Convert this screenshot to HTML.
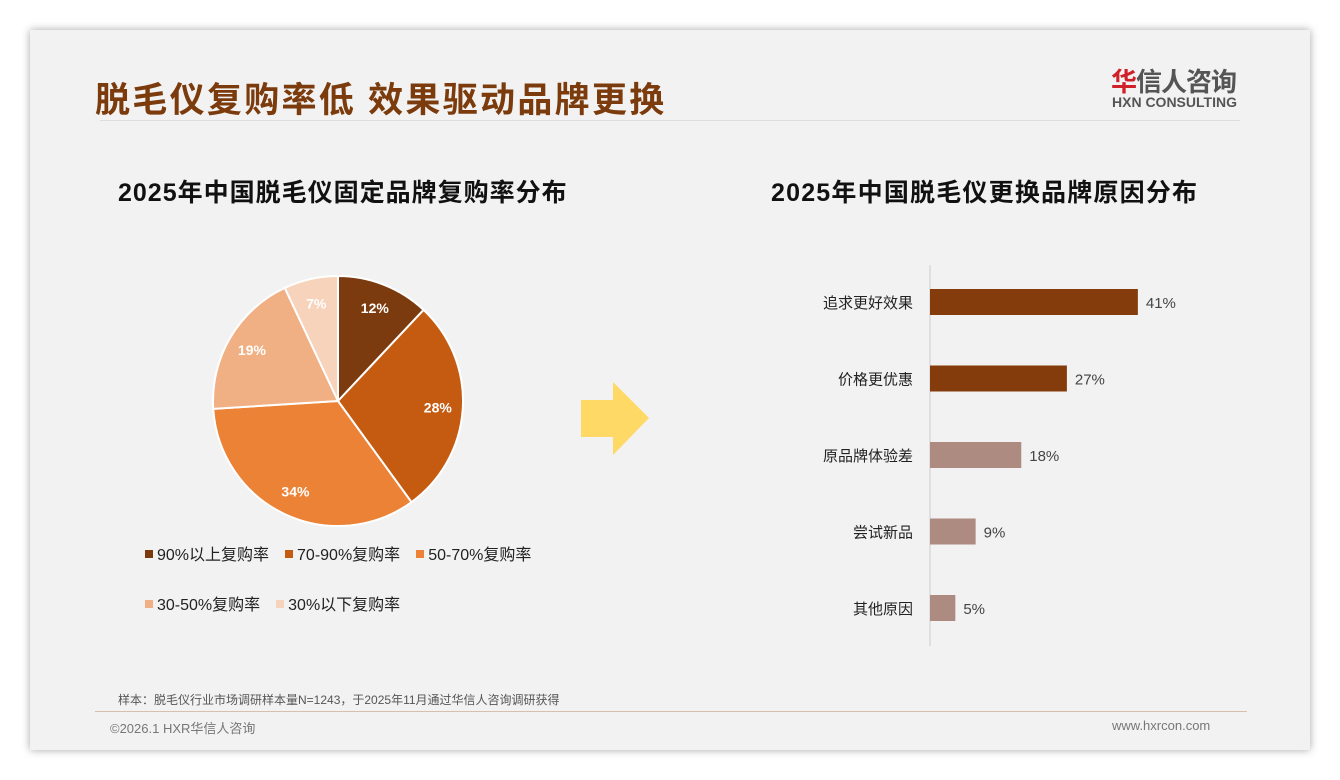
<!DOCTYPE html>
<html><head><meta charset="utf-8"><style>
body{margin:0;width:1340px;height:780px;background:#fff;position:relative;overflow:hidden;font-family:"Liberation Sans","Noto Sans CJK SC",sans-serif}
.card{position:absolute;left:30px;top:30px;width:1280px;height:720px;background:#f2f2f2;box-shadow:0 0 8px rgba(0,0,0,.35)}
.abs{position:absolute}
</style></head><body>
<div class="card"></div>
<div class="abs" style="left:95px;top:72px;font-size:35px;font-weight:bold;color:#7b3b0c;letter-spacing:2.3px">脱毛仪复购率低 效果驱动品牌更换</div>
<div class="abs" style="left:1111px;top:62px;font-size:26px;font-weight:bold;color:#555;letter-spacing:-1px"><span style="color:#d0202a">华</span>信人咨询</div>
<div class="abs" style="left:1112px;top:94px;font-size:14px;font-weight:bold;color:#555">HXN CONSULTING</div>
<div class="abs" style="left:100px;top:120px;width:1140px;height:1px;background:#ddd"></div>
<div class="abs" style="left:118px;top:173px;font-size:25px;font-weight:bold;color:#111;letter-spacing:1px">2025年中国脱毛仪固定品牌复购率分布</div>
<div class="abs" style="left:771px;top:173px;font-size:25px;font-weight:bold;color:#111;letter-spacing:1.2px">2025年中国脱毛仪更换品牌原因分布</div>
<svg class="abs" style="left:0;top:0" width="1340" height="780">
<g id="pie"></g>
<polygon points="581,400 613,400 613,382 649,418 613,455 613,437 581,437" fill="#ffd966"/>
<g id="bars"></g>
</svg>
<div class="abs" id="legend" style="left:145px;top:541px;width:420px;font-size:16px;color:#222"></div>
<div class="abs" style="left:118px;top:691px;font-size:12px;color:#555">样本：脱毛仪行业市场调研样本量N=1243，于2025年11月通过华信人咨询调研获得</div>
<div class="abs" style="left:95px;top:711px;width:1152px;height:1px;background:#d8bfae"></div>
<div class="abs" style="left:110px;top:718px;font-size:13px;color:#777">©2026.1 HXR华信人咨询</div>
<div class="abs" style="left:1112px;top:718px;font-size:13px;color:#777">www.hxrcon.com</div>
<script>
const pieLabels=["90%以上复购率","70-90%复购率","50-70%复购率","30-50%复购率","30%以下复购率"];
const pieValues=[12,28,34,19,7];
const pieColors=["#7b3b0f","#c55a11","#eb8236","#f1b083","#f6d3ba"];
const barCats=["追求更好效果","价格更优惠","原品牌体验差","尝试新品","其他原因"];
const barValues=[41,27,18,9,5];
const NS="http://www.w3.org/2000/svg";
const cx=338,cy=401,r=125;
const pie=document.getElementById('pie');
const tot=pieValues.reduce((a,b)=>a+b,0);
let a0=-Math.PI/2;
pieValues.forEach((v,i)=>{
 const a1=a0+v/tot*2*Math.PI;
 const p=document.createElementNS(NS,'path');
 const x0=cx+r*Math.cos(a0),y0=cy+r*Math.sin(a0),x1=cx+r*Math.cos(a1),y1=cy+r*Math.sin(a1);
 p.setAttribute('d',`M${cx},${cy}L${x0},${y0}A${r},${r} 0 ${a1-a0>Math.PI?1:0} 1 ${x1},${y1}Z`);
 p.setAttribute('fill',pieColors[i]);p.setAttribute('stroke','#fff');p.setAttribute('stroke-width','2');
 
 
 pie.appendChild(p);
 const am=(a0+a1)/2,lr=r*0.8;
 const t=document.createElementNS(NS,'text');
 t.setAttribute('x',cx+lr*Math.cos(am));t.setAttribute('y',cy+lr*Math.sin(am)+5);
 t.setAttribute('text-anchor','middle');t.setAttribute('font-size','14');t.setAttribute('font-weight','bold');t.setAttribute('fill','#fff');
 t.textContent=v+'%';
 
 
 pie.appendChild(t);
 a0=a1;
});
const leg=document.getElementById('legend');
pieLabels.forEach((l,i)=>{
 const d=document.createElement('span');
 
 
 d.style.cssText='display:inline-block;margin-right:16px;margin-bottom:26px;white-space:nowrap';
 d.innerHTML=`<span style="display:inline-block;width:8px;height:8px;background:${pieColors[i]};margin-right:4px;vertical-align:2px"></span>${l}`;
 leg.appendChild(d);
});
const bars=document.getElementById('bars');
const x0=930,scale=5.07,y0=302,step=76.5,bh=26;
const ax=document.createElementNS(NS,'line');
ax.setAttribute('x1',x0);ax.setAttribute('x2',x0);ax.setAttribute('y1',265);ax.setAttribute('y2',646);ax.setAttribute('stroke','#ccc');


bars.appendChild(ax);
barCats.forEach((c,i)=>{
 const y=y0+i*step;
 const b=document.createElementNS(NS,'rect');
 b.setAttribute('x',x0);b.setAttribute('y',y-bh/2);b.setAttribute('width',barValues[i]*scale);b.setAttribute('height',bh);
 b.setAttribute('fill',i<2?'#843c0c':'#ae8b80');
 
 
 bars.appendChild(b);
 const t=document.createElementNS(NS,'text');
 t.setAttribute('x',x0-17);t.setAttribute('y',y+6);t.setAttribute('text-anchor','end');t.setAttribute('font-size','15');t.setAttribute('fill','#222');
 t.textContent=c;
 
 
 bars.appendChild(t);
 const v=document.createElementNS(NS,'text');
 v.setAttribute('x',x0+barValues[i]*scale+8);v.setAttribute('y',y+6);v.setAttribute('font-size','15');v.setAttribute('fill','#444');
 v.textContent=barValues[i]+'%';
 
 
 bars.appendChild(v);
});
</script>
</body></html>
